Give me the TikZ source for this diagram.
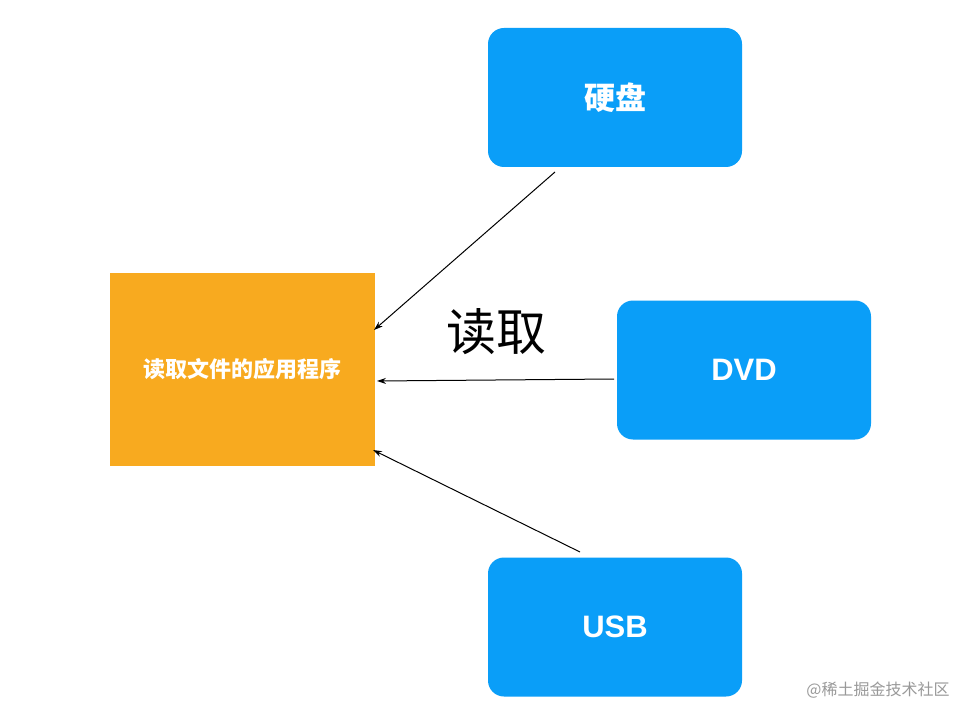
\documentclass[tikz,border=0pt]{standalone}
\usepackage{fontspec}
\setmainfont{Liberation Sans}
\newfontfamily\cjk{Noto Sans CJK SC}
\usetikzlibrary{arrows.meta}
\definecolor{blu}{HTML}{0A9EF8}
\definecolor{org}{HTML}{F8AA1F}
\begin{document}
\begin{tikzpicture}[x=1pt,y=-1pt,
  dev/.style={fill=blu,rounded corners=16pt,minimum width=254pt,minimum height=139pt,text=white,font=\bfseries\fontsize{31}{35}\selectfont},
  con/.style={-{Stealth[length=9pt,width=6pt]},line width=1pt}]
\useasboundingbox[fill=white] (0,0) rectangle (980,722);
\node[fill=org,minimum width=265pt,minimum height=193pt,text=white,font=\cjk\bfseries\fontsize{22}{26}\selectfont] (app) at (242.5,369.5) {读取文件的应用程序};
\node[dev,font=\cjk\bfseries\fontsize{31}{35}\selectfont] (hd) at (615,97.5) {硬盘};
\node[dev] (dvd) at (744,370) {DVD};
\node[dev] (usb) at (615,627) {USB};
\node[font=\cjk\fontsize{50}{54}\selectfont] (lbl) at (496,332) {读取};
\node[text=gray!80,font=\cjk\fontsize{16}{18}\selectfont] (wm) at (878,690) {@稀土掘金技术社区};
\coordinate (a1) at (555,172); \coordinate (b1) at (374,330);
\coordinate (a2) at (614,379); \coordinate (b2) at (377,381);
\coordinate (a3) at (580,552); \coordinate (b3) at (373,450);
\draw[con] (a1) -- (b1);
\draw[con] (a2) -- (b2);
\draw[con] (a3) -- (b3);
\end{tikzpicture}
\end{document}
